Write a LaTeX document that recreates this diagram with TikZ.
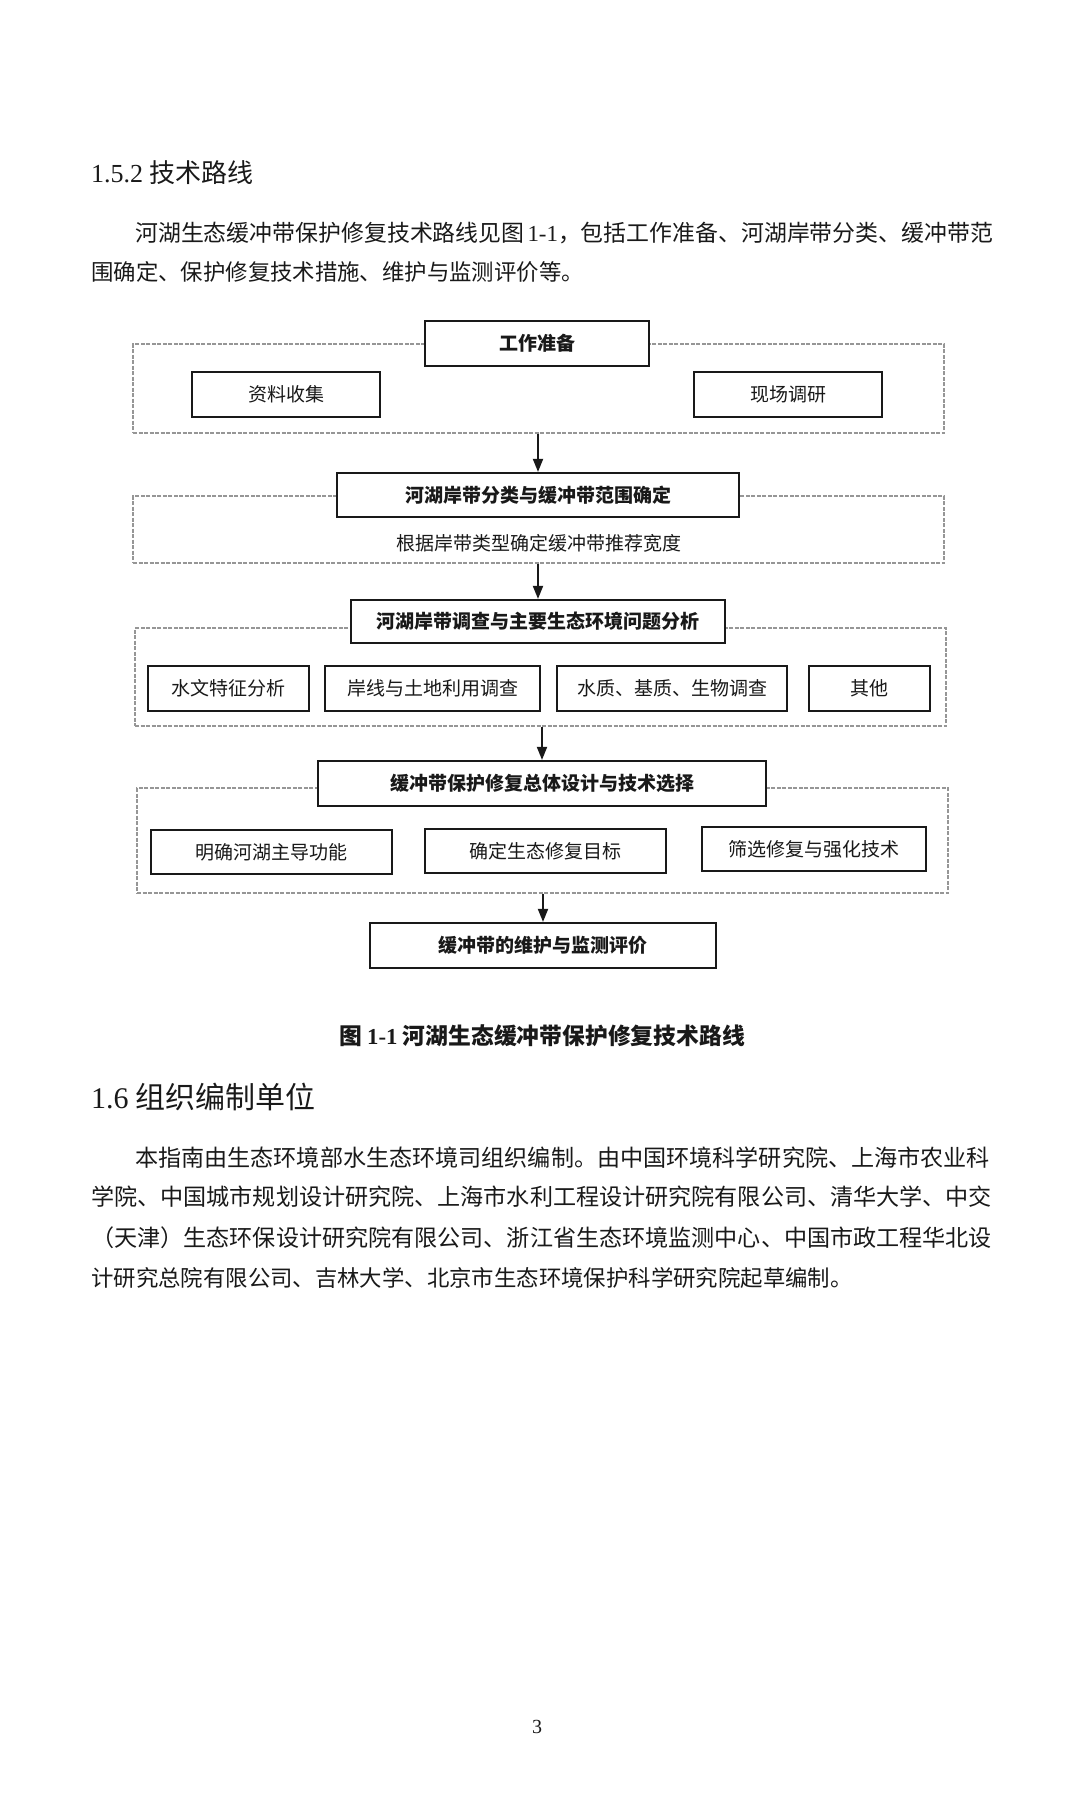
\documentclass[tikz,border=0pt]{standalone}
\usepackage{fontspec}
\setmainfont{Liberation Serif}
\newfontfamily\cjk{Noto Sans CJK SC}
\usetikzlibrary{positioning, arrows.meta}
\definecolor{framegray}{RGB}{150,150,150}
\definecolor{inkblack}{RGB}{25,25,25}
\tikzstyle{arrow} = [draw=inkblack, line width=1.8pt, -{Triangle[length=13pt,width=10pt]}]

\begin{document}
\begin{tikzpicture}[x=1pt, y=-1pt,
    block/.style={rectangle, draw=inkblack, line width=2.2pt, fill=white, inner sep=0pt, minimum height=45pt, align=center, text=inkblack, font=\cjk\bfseries\fontsize{19}{22}\selectfont},
    subblock/.style={block, line width=1.9pt, font=\cjk\fontsize{19}{22}\selectfont},
    groupframe/.style={rectangle, draw=framegray, line width=1.4pt, dash pattern=on 4pt off 1.5pt, inner sep=0pt},
    textline/.style={anchor=west, inner sep=0pt, text=inkblack, font=\cjk\fontsize{23.1}{26}\selectfont},
    lastline/.style={textline, font=\cjk\fontsize{22.4}{26}\selectfont}
  ]
  \useasboundingbox (0,0) rectangle (1080,1816);

  % Section heading and intro
  \node[textline, font=\cjk\fontsize{26}{29}\selectfont] (head1) at (91,173) {{\rmfamily 1.5.2} 技术路线};
  \node[textline, font=\cjk\fontsize{22.9}{26}\selectfont] (intro1) at (135,233) {河湖生态缓冲带保护修复技术路线见图\hspace{3pt}{\rmfamily 1-1}，包括工作准备、河湖岸带分类、缓冲带范};
  \node[lastline] (intro2) at (91,272) {围确定、保护修复技术措施、维护与监测评价等。};

  % Dashed group frames (drawn first, boxes sit on top)
  \node[groupframe, minimum width=811pt, minimum height=89pt] (prepframe) at (538.5,388.5) {};
  \node[groupframe, minimum width=811pt, minimum height=67pt] (rangeframe) at (538.5,529.5) {};
  \node[groupframe, minimum width=811pt, minimum height=98pt] (surveyframe) at (540.5,677) {};
  \node[groupframe, minimum width=811pt, minimum height=105pt] (designframe) at (542.5,840.5) {};

  % Step 1: preparation
  \node[block, minimum width=224pt] (prep) at (537,343.5) {工作准备};
  \node[subblock, minimum width=188pt] (data) at (286,394.5) {资料收集};
  \node[subblock, minimum width=188pt] (field) at (788,394.5) {现场调研};

  % Step 2: classification and range
  \node[block, minimum width=402pt, minimum height=44pt] (classify) at (538,495) {河湖岸带分类与缓冲带范围确定};
  \node[inner sep=0pt, text=inkblack, font=\cjk\fontsize{19}{22}\selectfont] (width) at (539,543) {根据岸带类型确定缓冲带推荐宽度};

  % Step 3: survey and problem analysis
  \node[block, minimum width=374pt, minimum height=43pt] (survey) at (538,621.5) {河湖岸带调查与主要生态环境问题分析};
  \node[subblock, minimum width=161pt, line width=2.4pt] (hydro) at (228.5,688.5) {水文特征分析};
  \node[subblock, minimum width=215pt] (shore) at (432.5,688.5) {岸线与土地利用调查};
  \node[subblock, minimum width=230pt] (water) at (672,688.5) {水质、基质、生物调查};
  \node[subblock, minimum width=121pt, line width=2.4pt] (other) at (869.5,688.5) {其他};

  % Step 4: overall design
  \node[block, minimum width=448pt] (design) at (542,783.5) {缓冲带保护修复总体设计与技术选择};
  \node[subblock, minimum width=241pt, minimum height=44pt] (function) at (271.5,852) {明确河湖主导功能};
  \node[subblock, minimum width=241pt, minimum height=44pt] (target) at (545.5,851) {确定生态修复目标};
  \node[subblock, minimum width=224pt, minimum height=44pt] (technique) at (814,849) {筛选修复与强化技术};

  % Step 5: maintenance
  \node[block, minimum width=346pt] (maintain) at (543,945.5) {缓冲带的维护与监测评价};

  % Arrows between stages
  \draw[arrow] (classify.north |- prepframe.south) -- (classify.north);
  \draw[arrow] (survey.north |- rangeframe.south) -- (survey.north);
  \draw[arrow] (design.north |- surveyframe.south) -- (design.north);
  \draw[arrow] (maintain.north |- designframe.south) -- (maintain.north);

  % Caption
  \node[inner sep=0pt, text=inkblack, font=\cjk\bfseries\fontsize{22.8}{25}\selectfont] (caption) at (542,1036) {图 {\rmfamily\bfseries 1-1} 河湖生态缓冲带保护修复技术路线};

  % Section 1.6
  \node[textline, font=\cjk\fontsize{30}{33}\selectfont] (head2) at (91,1097) {{\rmfamily 1.6} 组织编制单位};
  \node[textline] (org1) at (135,1158) {本指南由生态环境部水生态环境司组织编制。由中国环境科学研究院、上海市农业科};
  \node[textline] (org2) at (91,1197) {学院、中国城市规划设计研究院、上海市水利工程设计研究院有限公司、清华大学、中交};
  \node[textline] (org3) at (91,1238) {（天津）生态环保设计研究院有限公司、浙江省生态环境监测中心、中国市政工程华北设};
  \node[lastline] (org4) at (91,1278) {计研究总院有限公司、吉林大学、北京市生态环境保护科学研究院起草编制。};

  % Page number
  \node[inner sep=0pt, text=inkblack, font=\rmfamily\fontsize{20}{22}\selectfont] (pagenum) at (537,1727) {3};
\end{tikzpicture}
\end{document}
